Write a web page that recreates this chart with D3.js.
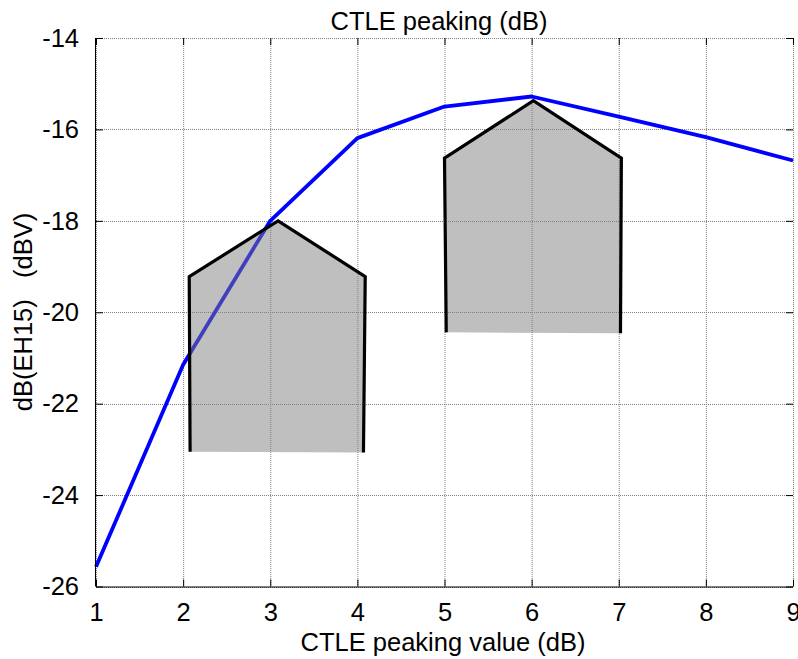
<!DOCTYPE html>
<html>
<head>
<meta charset="utf-8">
<script src="https://cdn.jsdelivr.net/npm/d3@7"></script>
<style>
  html, body { margin: 0; padding: 0; background: #fff; }
  svg { display: block; }
  text { font-family: "Liberation Sans", Arial, sans-serif; fill: #000; }
</style>
</head>
<body>
<svg id="chart" width="798" height="659"></svg>
<script>
// ---- data ----
const peakingValues = [1, 2, 3, 4, 5, 6, 7, 8, 9];
const eh15Values = [-25.57, -21.15, -18.0, -16.19, -15.5, -15.28, -15.72, -16.17, -16.68];
const xTickValues = [1, 2, 3, 4, 5, 6, 7, 8, 9];
const yTickValues = [-26, -24, -22, -20, -18, -16, -14];
const markerA = [[2.08, -23.05], [2.07, -19.22], [3.09, -18.0], [4.09, -19.22], [4.07, -23.07]];
const markerB = [[5.02, -20.44], [5.0, -16.63], [6.02, -15.37], [7.03, -16.63], [7.02, -20.46]];
const titleText = "CTLE peaking (dB)";
const xLabelText = "CTLE peaking value (dB)";
const yLabelText = "dB(EH15)   (dBV)";

// ---- layout ----
const L = 96, R = 793, T = 38, B = 586.5;
const FS = 25.5;
const svg = d3.select("#chart");
const x = d3.scaleLinear().domain([1, 9]).range([L, R]);
const y = d3.scaleLinear().domain([-26, -14]).range([B, T]);

// grid
const grid = svg.append("g");
grid.selectAll("line.gx").data(xTickValues).join("line")
  .attr("x1", d => x(d) + 0.5).attr("x2", d => x(d) + 0.5)
  .attr("y1", T).attr("y2", B)
  .attr("stroke", "#808080").attr("stroke-width", 1).attr("stroke-dasharray", "1,1");
grid.selectAll("line.gy").data(yTickValues).join("line")
  .attr("y1", d => Math.round(y(d)) + 0.5).attr("y2", d => Math.round(y(d)) + 0.5)
  .attr("x1", L).attr("x2", R)
  .attr("stroke", "#808080").attr("stroke-width", 1).attr("stroke-dasharray", "1,1");

// line
const line = d3.line().x((d, i) => x(peakingValues[i])).y(d => y(d));
svg.append("path").datum(eh15Values)
  .attr("d", line).attr("fill", "none")
  .attr("stroke", "#0000ff").attr("stroke-width", 3.8).attr("stroke-linejoin", "round");

// markers
[markerA, markerB].forEach(m => {
  const pts = m.map(p => [x(p[0]), y(p[1])]);
  svg.append("path")
    .attr("d", "M" + pts.map(p => p.join(",")).join("L") + "Z")
    .attr("fill", "#808080").attr("fill-opacity", 0.5).attr("stroke", "none");
  svg.append("path")
    .attr("d", d3.line()(pts))
    .attr("fill", "none").attr("stroke", "#000").attr("stroke-width", 3.2)
    .attr("stroke-linejoin", "miter");
});

// axes
const tickLen = 7;
const fmt = d => String(d);
const xAxisB = d3.axisBottom(x).tickValues(xTickValues).tickSize(-tickLen).tickPadding(tickLen + 9).tickFormat(fmt);
const xAxisT = d3.axisTop(x).tickValues(xTickValues).tickSize(-tickLen).tickFormat("");
const yAxisL = d3.axisLeft(y).tickValues(yTickValues).tickSize(-tickLen).tickPadding(tickLen + 10).tickFormat(fmt);
const yAxisR = d3.axisRight(y).tickValues(yTickValues).tickSize(-tickLen).tickFormat("");

function style(g, showDomain) {
  g.select(".domain").attr("stroke", showDomain ? "#000" : "none");
  g.selectAll(".tick line").attr("stroke", "#000");
  g.selectAll(".tick text").attr("font-size", FS).attr("font-family", "Liberation Sans, Arial, sans-serif").attr("fill", "#000");
}
svg.append("g").attr("transform", `translate(0,${B})`).call(xAxisB).call(g => style(g, true))
  .call(g => g.select(".domain").attr("d", `M${L},0.5H${R}`));
svg.append("g").attr("transform", `translate(0,${T})`).call(xAxisT).call(g => style(g, false));
svg.append("g").attr("transform", `translate(${L},0)`).call(yAxisL).call(g => style(g, true))
  .call(g => g.select(".domain").attr("d", `M-0.5,${T}V${B}`));
svg.append("g").attr("transform", `translate(${R},0)`).call(yAxisR).call(g => style(g, false));

// texts
svg.append("text").attr("x", 439).attr("y", 30).attr("text-anchor", "middle")
  .attr("font-size", FS).text(titleText);
svg.append("text").attr("x", 443).attr("y", 651).attr("text-anchor", "middle")
  .attr("font-size", FS).text(xLabelText);
svg.append("text").attr("transform", "translate(32,312) rotate(-90)")
  .attr("text-anchor", "middle").attr("font-size", FS)
  .attr("xml:space", "preserve").style("white-space", "pre").text(yLabelText);
</script>
</body>
</html>
